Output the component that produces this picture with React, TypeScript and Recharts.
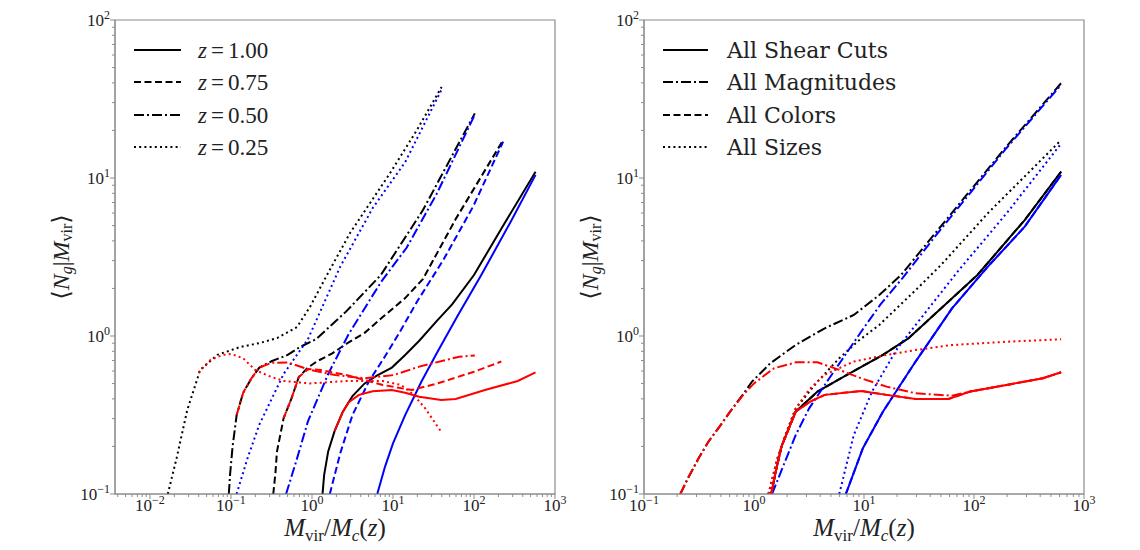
import React from 'react';
import { LineChart, Line, XAxis, YAxis, ReferenceArea, Legend, Label } from 'recharts';

const SERIF = '"Liberation Serif", "DejaVu Serif", serif';
const DEJAVU = '"DejaVu Serif", serif';
const FRAME = '#8c8c8c';

// ---------- left panel: redshift bins ----------
const z100BlackX = [1.349, 1.413, 1.585, 1.905, 2.399, 3.162, 4.467, 6.31, 9.683, 14.13, 21.09, 35.48, 53.7, 100, 223.9, 575.4];
const z100BlackY = [0.1, 0.132, 0.186, 0.251, 0.331, 0.417, 0.501, 0.562, 0.631, 0.759, 0.933, 1.259, 1.585, 2.432, 4.898, 10.96];
const z100BlueX = [6.397, 7.943, 10, 14.13, 22.39, 35.48, 63.1, 123.0, 281.8, 575.4];
const z100BlueY = [0.1, 0.148, 0.209, 0.316, 0.513, 0.794, 1.349, 2.432, 5.248, 10.47];
const z100RedX = [1.905, 2.399, 2.818, 3.802, 5.623, 9.683, 14.13, 21.09, 39.26, 59.43, 136.5, 346.7, 575.4];
const z100RedY = [0.251, 0.331, 0.38, 0.424, 0.447, 0.455, 0.437, 0.413, 0.394, 0.399, 0.455, 0.519, 0.589];

const z075BlackX = [0.3327, 0.3548, 0.369, 0.4467, 0.5585, 0.6871, 0.8913, 1.156, 1.778, 2.649, 4.467, 7.464, 14.13, 23.39, 59.43, 229.1];
const z075BlackY = [0.1, 0.138, 0.185, 0.302, 0.403, 0.55, 0.631, 0.692, 0.776, 0.891, 1.047, 1.318, 1.738, 2.291, 5.495, 17.38];
const z075BlueX = [1.66, 2.239, 3.162, 5.012, 7.943, 12.59, 19.95, 41.69, 97.72, 229.1];
const z075BlueY = [0.1, 0.182, 0.316, 0.513, 0.741, 1.096, 1.66, 3.02, 6.607, 16.98];
const z075RedX = [0.4467, 0.5585, 0.6871, 0.8913, 1.282, 2.649, 7.464, 17.14, 35.48, 100, 217.3];
const z075RedY = [0.302, 0.403, 0.55, 0.617, 0.61, 0.566, 0.49, 0.455, 0.501, 0.594, 0.689];

const z050BlackX = [0.094, 0.0977, 0.1047, 0.1175, 0.1413, 0.1778, 0.2239, 0.3162, 0.5012, 0.7079, 1.122, 2.63, 7.079, 23.44, 102.3];
const z050BlackY = [0.1, 0.135, 0.2, 0.316, 0.437, 0.537, 0.631, 0.692, 0.759, 0.851, 0.955, 1.426, 2.432, 6.266, 25.64];
const z050BlueX = [0.4786, 0.631, 0.8913, 1.585, 2.818, 7.079, 14.79, 34.67, 102.3];
const z050BlueY = [0.1, 0.158, 0.288, 0.575, 1.023, 2.188, 3.631, 7.943, 25.12];
const z050RedX = [0.1175, 0.1413, 0.1778, 0.2239, 0.3162, 0.5035, 0.9397, 1.941, 4.446, 10.21, 21.09, 65.92, 102.3];
const z050RedY = [0.316, 0.437, 0.537, 0.631, 0.676, 0.681, 0.61, 0.566, 0.54, 0.566, 0.64, 0.74, 0.752];

const z025BlackX = [0.0166, 0.0214, 0.0288, 0.0417, 0.0676, 0.1288, 0.2291, 0.3715, 0.6531, 0.9441, 1.585, 2.951, 9.183, 19.77, 39.81];
const z025BlackY = [0.1, 0.17, 0.339, 0.61, 0.759, 0.851, 0.904, 0.971, 1.14, 1.528, 2.512, 4.487, 10.72, 20.14, 37.67];
const z025BlueX = [0.1175, 0.1585, 0.2239, 0.4467, 0.8913, 2.239, 5.623, 14.13, 39.81];
const z025BlueY = [0.1, 0.166, 0.275, 0.575, 0.955, 2.754, 6.457, 12.59, 36.3];
const z025RedX = [0.0398, 0.0562, 0.0794, 0.1009, 0.1413, 0.1982, 0.3162, 0.4539, 0.9397, 2.649, 7.464, 12.56, 17.78, 25.12, 39.26];
const z025RedY = [0.589, 0.708, 0.759, 0.769, 0.724, 0.61, 0.55, 0.519, 0.501, 0.519, 0.519, 0.49, 0.427, 0.347, 0.248];

// ---------- right panel: selection cuts ----------
const shearBlackX = [1.435, 1.574, 1.778, 2.393, 3.776, 6.934, 14.86, 25.29, 43.15, 68.08, 107.4, 289.1, 619.4];
const shearBlackY = [0.1, 0.138, 0.2, 0.332, 0.445, 0.566, 0.759, 0.966, 1.358, 1.816, 2.432, 5.42, 10.96];
const shearBlueX = [6.839, 9.772, 14.86, 29.44, 63.1, 130, 289.1, 619.4];
const shearBlueY = [0.1, 0.195, 0.332, 0.689, 1.496, 2.692, 4.92, 10.47];
const shearRedX = [1.435, 1.574, 1.778, 2.393, 3.243, 4.395, 9.419, 16.03, 29.44, 58.48, 92.26, 197.7, 422.7, 619.4];
const shearRedY = [0.1, 0.138, 0.2, 0.332, 0.384, 0.424, 0.449, 0.424, 0.399, 0.399, 0.445, 0.49, 0.54, 0.589];

const magBlackX = [0.2138, 0.2512, 0.3162, 0.3846, 0.5012, 0.6067, 0.7943, 0.9594, 1.403, 2.388, 4.395, 8.072, 13.77, 21.73, 43.15, 92.26, 197.7, 619.4];
const magBlackY = [0.1, 0.126, 0.17, 0.214, 0.275, 0.332, 0.427, 0.514, 0.671, 0.877, 1.119, 1.358, 1.816, 2.432, 4.365, 8.318, 15.85, 39.81];
const magBlueX = [1.459, 1.778, 2.393, 3.162, 4.395, 6.31, 9.419, 14.13, 22.59, 43.15, 92.26, 197.7, 619.4];
const magBlueY = [0.1, 0.141, 0.236, 0.347, 0.49, 0.708, 1.064, 1.585, 2.344, 4.169, 8.035, 15.49, 38.9];
const magRedX = [0.2138, 0.2512, 0.3162, 0.3846, 0.5012, 0.6067, 0.7943, 1, 1.514, 2.393, 3.776, 5.957, 9.419, 16.03, 29.44, 63.1, 92.26, 197.7, 422.7, 619.4];
const magRedY = [0.1, 0.126, 0.17, 0.214, 0.275, 0.332, 0.422, 0.501, 0.624, 0.681, 0.681, 0.61, 0.54, 0.478, 0.434, 0.419, 0.445, 0.49, 0.54, 0.589];

const sizesBlackX = [1.352, 1.633, 1.995, 2.393, 3.776, 5.957, 8.913, 13.77, 29.44, 50.23, 134.9, 619.4];
const sizesBlackY = [0.1, 0.168, 0.251, 0.348, 0.514, 0.723, 0.933, 1.175, 1.95, 2.818, 6.026, 17.38];
const sizesBlueX = [5.957, 8.072, 11.83, 20.14, 43.15, 73.45, 197.7, 619.4];
const sizesBlueY = [0.1, 0.236, 0.445, 0.836, 1.648, 2.63, 5.97, 16.5];
const sizesRedX = [1.352, 1.633, 1.995, 2.393, 3.162, 4.395, 8.072, 16.03, 29.44, 63.1, 197.7, 619.4];
const sizesRedY = [0.1, 0.168, 0.251, 0.348, 0.457, 0.569, 0.689, 0.759, 0.815, 0.877, 0.92, 0.953];

// "All Colors" lies on top of "All Shear Cuts"
const colorsBlackX = shearBlackX;
const colorsBlackY = shearBlackY;
const colorsBlueX = shearBlueX;
const colorsBlueY = shearBlueY;
const colorsRedX = shearRedX;
const colorsRedY = shearRedY;

// tick decades
const leftXDecades = [0.01, 0.1, 1, 10, 100, 1000];
const rightXDecades = [0.1, 1, 10, 100, 1000];
const yDecades = [0.1, 1, 10, 100];
const leftXDomain: [number, number] = [0.0037, 1000];
const rightXDomain: [number, number] = [0.1, 1000];
const yDomain: [number, number] = [0.1, 100];

const zLabels = ['1.00', '0.75', '0.50', '0.25'];
const cutLabels = ['All Shear Cuts', 'All Magnitudes', 'All Colors', 'All Sizes'];

const DASH: Record<string, string | undefined> = {
  solid: undefined,
  dashed: '7 3.5',
  dashdot: '10 3 2 3',
  dotted: '2 3.2',
};

type Series = { key: string; xs: number[]; ys: number[]; color: string; style: string };

const pts = (xs: number[], ys: number[]) => xs.map((x, i) => ({ x, y: ys[i] }));

function logTicks(decades: number[], lo: number, hi: number) {
  const out: number[] = [];
  const all = [decades[0] / 10, ...decades];
  all.forEach((d) => {
    for (let k = 1; k < 10; k++) {
      const v = +(d * k).toPrecision(6);
      if (v >= lo * 0.999 && v <= hi * 1.001) out.push(v);
    }
  });
  return Array.from(new Set(out)).sort((a, b) => a - b);
}

const isMajor = (v: number) => Math.abs(Math.log10(v) - Math.round(Math.log10(v))) < 1e-6;
const expText = (v: number) => {
  const e = Math.round(Math.log10(v));
  return e < 0 ? '\u2212' + Math.abs(e) : String(e);
};

const XTick = (props: any) => {
  const { x, y, payload } = props;
  const major = isMajor(payload.value);
  return (
    <g>
      <line x1={x} x2={x} y1={y} y2={y + (major ? 5 : 3)} stroke={FRAME} strokeWidth={1} />
      {major && (
        <text x={x} y={y + 17} textAnchor="middle" fontFamily={SERIF} fontSize={17} fill="#222">
          10<tspan dy={-7} fontSize={12}>{expText(payload.value)}</tspan>
        </text>
      )}
    </g>
  );
};

const YTick = (props: any) => {
  const { x, y, payload } = props;
  const major = isMajor(payload.value);
  return (
    <g>
      <line x1={x} x2={x - (major ? 5 : 3)} y1={y} y2={y} stroke={FRAME} strokeWidth={1} />
      {major && (
        <text x={x - 5} y={y + 6} textAnchor="end" fontFamily={SERIF} fontSize={17} fill="#222">
          10<tspan dy={-7} fontSize={12}>{expText(payload.value)}</tspan>
        </text>
      )}
    </g>
  );
};

const XLabelContent = (props: any) => {
  const vb = props.viewBox || {};
  const cx = vb.x + vb.width / 2;
  const by = vb.y + 42;
  return (
    <text x={cx} y={by} textAnchor="middle" fontFamily={SERIF} fontSize={25} fill="#222">
      <tspan fontStyle="italic">M</tspan>
      <tspan fontSize={17} dy={5}>vir</tspan>
      <tspan dy={-5}>/</tspan>
      <tspan fontStyle="italic">M</tspan>
      <tspan fontSize={17} fontStyle="italic" dy={5}>c</tspan>
      <tspan dy={-5}>(</tspan>
      <tspan fontStyle="italic">z</tspan>
      <tspan>)</tspan>
    </text>
  );
};

const YLabelContent = (props: any) => {
  const vb = props.viewBox || {};
  const cx = vb.x + vb.width - 54;
  const cy = vb.y + vb.height / 2;
  return (
    <text
      x={cx}
      y={cy}
      transform={`rotate(-90, ${cx}, ${cy})`}
      textAnchor="middle"
      dominantBaseline="central"
      fontFamily={SERIF}
      fontSize={24}
      fill="#222"
    >
      {'\u27E8'}
      <tspan fontStyle="italic">N</tspan>
      <tspan fontSize={16} fontStyle="italic" dy={5}>g</tspan>
      <tspan dy={-5}>|</tspan>
      <tspan fontStyle="italic">M</tspan>
      <tspan fontSize={16} dy={5}>vir</tspan>
      <tspan dy={-5}>{'\u27E9'}</tspan>
    </text>
  );
};

const legendRows = [20, 52, 85, 117];

function legendSvg(labels: React.ReactNode[], styles: string[], lineX1: number, lineX2: number, textX: number) {
  return (
    <svg width={260} height={140} style={{ display: 'block' }}>
      {labels.map((lab, i) => (
        <g key={i}>
          <line
            x1={lineX1}
            x2={lineX2}
            y1={legendRows[i]}
            y2={legendRows[i]}
            stroke="#000"
            strokeWidth={2}
            strokeDasharray={DASH[styles[i]]}
          />
          <text x={textX} y={legendRows[i]} dominantBaseline="central" fill="#222">
            {lab}
          </text>
        </g>
      ))}
    </svg>
  );
}

const zLegend = () =>
  legendSvg(
    zLabels.map((z) => (
      <tspan fontFamily={SERIF} fontSize={23}>
        <tspan fontStyle="italic">z</tspan>
        <tspan dx={4}>=</tspan>
        <tspan dx={4}>{z}</tspan>
      </tspan>
    )),
    ['solid', 'dashed', 'dashdot', 'dotted'],
    4,
    51,
    68,
  );

const cutLegend = () =>
  legendSvg(
    cutLabels.map((c) => (
      <tspan fontFamily={DEJAVU} fontSize={22}>
        {c}
      </tspan>
    )),
    ['solid', 'dashdot', 'dashed', 'dotted'],
    5,
    50,
    69,
  );

const leftSeries: Series[] = [
  { key: 'z100k', xs: z100BlackX, ys: z100BlackY, color: '#000', style: 'solid' },
  { key: 'z075k', xs: z075BlackX, ys: z075BlackY, color: '#000', style: 'dashed' },
  { key: 'z050k', xs: z050BlackX, ys: z050BlackY, color: '#000', style: 'dashdot' },
  { key: 'z025k', xs: z025BlackX, ys: z025BlackY, color: '#000', style: 'dotted' },
  { key: 'z100b', xs: z100BlueX, ys: z100BlueY, color: '#0000ff', style: 'solid' },
  { key: 'z075b', xs: z075BlueX, ys: z075BlueY, color: '#0000ff', style: 'dashed' },
  { key: 'z050b', xs: z050BlueX, ys: z050BlueY, color: '#0000ff', style: 'dashdot' },
  { key: 'z025b', xs: z025BlueX, ys: z025BlueY, color: '#0000ff', style: 'dotted' },
  { key: 'z100r', xs: z100RedX, ys: z100RedY, color: '#ff0000', style: 'solid' },
  { key: 'z075r', xs: z075RedX, ys: z075RedY, color: '#ff0000', style: 'dashed' },
  { key: 'z050r', xs: z050RedX, ys: z050RedY, color: '#ff0000', style: 'dashdot' },
  { key: 'z025r', xs: z025RedX, ys: z025RedY, color: '#ff0000', style: 'dotted' },
];

const rightSeries: Series[] = [
  { key: 'colk', xs: colorsBlackX, ys: colorsBlackY, color: '#000', style: 'dashed' },
  { key: 'shk', xs: shearBlackX, ys: shearBlackY, color: '#000', style: 'solid' },
  { key: 'magk', xs: magBlackX, ys: magBlackY, color: '#000', style: 'dashdot' },
  { key: 'sizk', xs: sizesBlackX, ys: sizesBlackY, color: '#000', style: 'dotted' },
  { key: 'colb', xs: colorsBlueX, ys: colorsBlueY, color: '#0000ff', style: 'dashed' },
  { key: 'shb', xs: shearBlueX, ys: shearBlueY, color: '#0000ff', style: 'solid' },
  { key: 'magb', xs: magBlueX, ys: magBlueY, color: '#0000ff', style: 'dashdot' },
  { key: 'sizb', xs: sizesBlueX, ys: sizesBlueY, color: '#0000ff', style: 'dotted' },
  { key: 'colr', xs: colorsRedX, ys: colorsRedY, color: '#ff0000', style: 'dashed' },
  { key: 'shr', xs: shearRedX, ys: shearRedY, color: '#ff0000', style: 'solid' },
  { key: 'magr', xs: magRedX, ys: magRedY, color: '#ff0000', style: 'dashdot' },
  { key: 'sizr', xs: sizesRedX, ys: sizesRedY, color: '#ff0000', style: 'dotted' },
];

type PanelProps = {
  series: Series[];
  xDomain: [number, number];
  xDecades: number[];
  margin: { top: number; right: number; bottom: number; left: number };
  legend: () => React.ReactNode;
  legendPos: { left: number; top: number };
};

function Panel({ series, xDomain, xDecades, margin, legend, legendPos }: PanelProps) {
  const xTicks = logTicks(xDecades, xDomain[0], xDomain[1]);
  const yTicks = logTicks(yDecades, yDomain[0], yDomain[1]);
  return (
    <LineChart width={570} height={550} margin={margin}>
      <XAxis
        type="number"
        dataKey="x"
        scale="log"
        domain={xDomain}
        allowDataOverflow
        ticks={xTicks}
        interval={0}
        tick={<XTick />}
        tickLine={false}
        tickSize={0}
        tickMargin={0}
        axisLine={{ stroke: FRAME }}
        height={30}
      >
        <Label content={<XLabelContent />} />
      </XAxis>
      <YAxis
        type="number"
        dataKey="y"
        scale="log"
        domain={yDomain}
        allowDataOverflow
        ticks={yTicks}
        interval={0}
        tick={<YTick />}
        tickLine={false}
        tickSize={0}
        tickMargin={0}
        axisLine={{ stroke: FRAME }}
        width={60}
      >
        <Label content={<YLabelContent />} />
      </YAxis>
      <ReferenceArea
        x1={xDomain[0]}
        x2={xDomain[1]}
        y1={yDomain[0]}
        y2={yDomain[1]}
        fill="none"
        fillOpacity={0}
        stroke={FRAME}
        strokeWidth={1.2}
        ifOverflow="visible"
      />
      {series.map((s) => (
        <Line
          key={s.key}
          data={pts(s.xs, s.ys)}
          dataKey="y"
          type="linear"
          stroke={s.color}
          strokeWidth={2}
          strokeDasharray={DASH[s.style]}
          dot={false}
          activeDot={false}
          isAnimationActive={false}
        />
      ))}
      <Legend
        layout="vertical"
        align="center"
        verticalAlign="middle"
        content={legend}
        wrapperStyle={{ left: legendPos.left, top: legendPos.top, width: 260, height: 140 }}
      />
    </LineChart>
  );
}

export default function App() {
  return (
    <div style={{ position: 'relative', width: 1140, height: 550, margin: -8, background: '#fff' }}>
      <div style={{ position: 'absolute', left: 0, top: 0 }}>
        <Panel
          series={leftSeries}
          xDomain={leftXDomain}
          xDecades={leftXDecades}
          margin={{ top: 20, right: 15, bottom: 26, left: 55 }}
          legend={zLegend}
          legendPos={{ left: 130, top: 30 }}
        />
      </div>
      <div style={{ position: 'absolute', left: 570, top: 0 }}>
        <Panel
          series={rightSeries}
          xDomain={rightXDomain}
          xDecades={rightXDecades}
          margin={{ top: 20, right: 56, bottom: 26, left: 14 }}
          legend={cutLegend}
          legendPos={{ left: 88, top: 30 }}
        />
      </div>
    </div>
  );
}
